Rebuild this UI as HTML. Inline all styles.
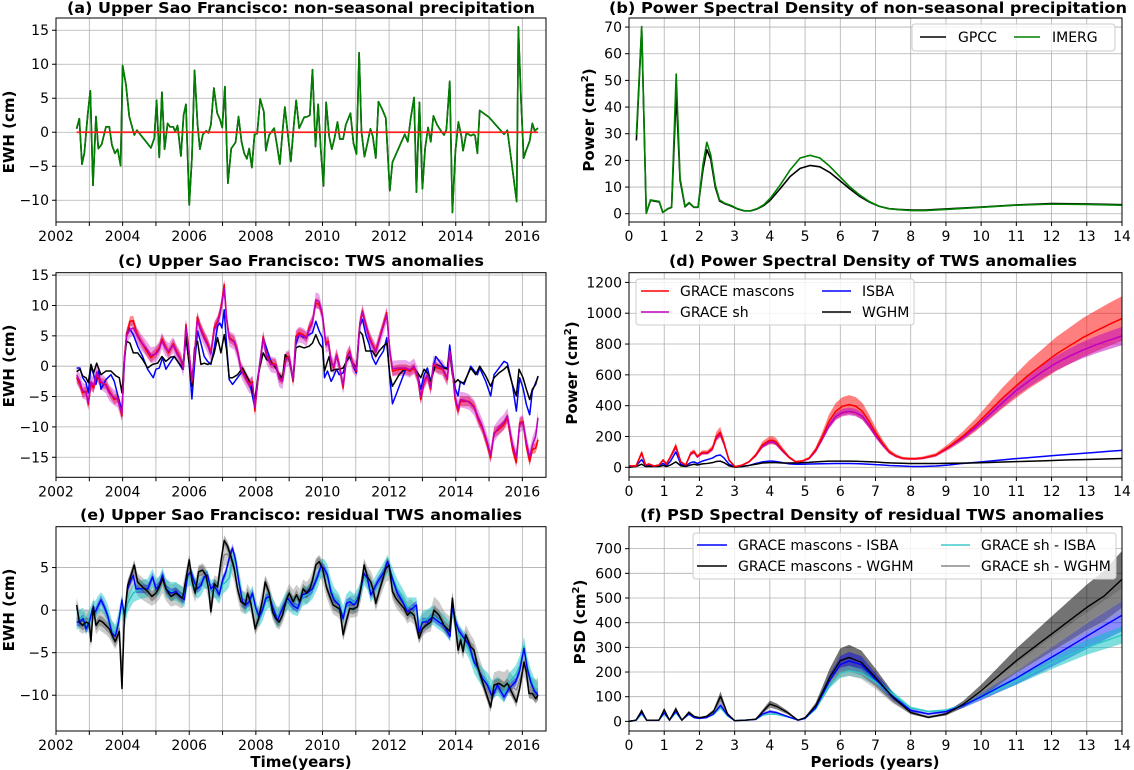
<!DOCTYPE html>
<html><head><meta charset="utf-8"><style>
html,body{margin:0;padding:0;background:#fff;}
svg{display:block;font-family:"DejaVu Sans","Liberation Sans",sans-serif;}
.tt{font-weight:bold;font-size:15px;}
.ax{font-weight:bold;font-size:15px;}
.tk{font-size:14px;}
.lg{font-size:14px;}
</style></head><body>
<svg id="chart" width="1134" height="770" viewBox="0 0 1134 770" xmlns="http://www.w3.org/2000/svg">
<rect x="0" y="0" width="1134" height="770" fill="#fff"/>
<g id="layer"></g>
<text class="tt" x="301" y="13" text-anchor="middle" textLength="468" lengthAdjust="spacingAndGlyphs">(a) Upper Sao Francisco: non-seasonal precipitation</text>
<text class="tt" x="868" y="13" text-anchor="middle" textLength="518" lengthAdjust="spacingAndGlyphs">(b) Power Spectral Density of non-seasonal precipitation</text>
<text class="tt" x="301" y="266" text-anchor="middle" textLength="366" lengthAdjust="spacingAndGlyphs">(c) Upper Sao Francisco: TWS anomalies</text>
<text class="tt" x="873" y="266" text-anchor="middle" textLength="408" lengthAdjust="spacingAndGlyphs">(d) Power Spectral Density of TWS anomalies</text>
<text class="tt" x="301" y="520" text-anchor="middle" textLength="442" lengthAdjust="spacingAndGlyphs">(e) Upper Sao Francisco: residual TWS anomalies</text>
<text class="tt" x="872" y="520" text-anchor="middle" textLength="464" lengthAdjust="spacingAndGlyphs">(f) PSD Spectral Density of residual TWS anomalies</text>
<text class="ax" transform="translate(14,132) rotate(-90)" text-anchor="middle">EWH (cm)</text>
<text class="ax" transform="translate(14,366) rotate(-90)" text-anchor="middle">EWH (cm)</text>
<text class="ax" transform="translate(14,610) rotate(-90)" text-anchor="middle">EWH (cm)</text>
<text class="ax" transform="translate(594,120) rotate(-90)" text-anchor="middle">Power (cm<tspan dy="-6" font-size="10">2</tspan><tspan dy="6">)</tspan></text>
<text class="ax" transform="translate(577,373) rotate(-90)" text-anchor="middle">Power (cm<tspan dy="-6" font-size="10">2</tspan><tspan dy="6">)</tspan></text>
<text class="ax" transform="translate(585,622) rotate(-90)" text-anchor="middle">PSD (cm<tspan dy="-6" font-size="10">2</tspan><tspan dy="6">)</tspan></text>
<text class="ax" x="301" y="767" text-anchor="middle">Time(years)</text>
<text class="ax" x="875" y="767" text-anchor="middle">Periods (years)</text>

<g>
<rect x="912" y="24" width="203" height="27" rx="3" fill="#fff" fill-opacity="0.8" stroke="#ccc"/>
<line x1="920" y1="37" x2="946" y2="37" stroke="#000" stroke-width="1.5"/>
<text class="lg" x="958" y="42">GPCC</text>
<line x1="1014" y1="37" x2="1040" y2="37" stroke="#008000" stroke-width="1.5"/>
<text class="lg" x="1052" y="42">IMERG</text>
</g>
<g>
<rect x="636" y="279" width="278" height="46" rx="3" fill="#fff" fill-opacity="0.8" stroke="#ccc"/>
<line x1="641" y1="291" x2="669" y2="291" stroke="#ff0000" stroke-width="1.5"/>
<text class="lg" x="680" y="296">GRACE mascons</text>
<line x1="641" y1="312" x2="669" y2="312" stroke="#bf00bf" stroke-width="1.5"/>
<text class="lg" x="680" y="317">GRACE sh</text>
<line x1="822" y1="291" x2="851" y2="291" stroke="#0000ff" stroke-width="1.5"/>
<text class="lg" x="862" y="296">ISBA</text>
<line x1="822" y1="312" x2="851" y2="312" stroke="#000" stroke-width="1.5"/>
<text class="lg" x="862" y="317">WGHM</text>
</g>
<g>
<rect x="693" y="533" width="423" height="46" rx="3" fill="#fff" fill-opacity="0.8" stroke="#ccc"/>
<line x1="697" y1="545" x2="727" y2="545" stroke="#0000ff" stroke-width="1.5"/>
<text class="lg" x="738" y="550">GRACE mascons - ISBA</text>
<line x1="697" y1="566" x2="727" y2="566" stroke="#000" stroke-width="1.5"/>
<text class="lg" x="738" y="571">GRACE mascons - WGHM</text>
<line x1="941" y1="545" x2="970" y2="545" stroke="#40c8c8" stroke-width="1.5"/>
<text class="lg" x="981" y="550">GRACE sh - ISBA</text>
<line x1="941" y1="566" x2="970" y2="566" stroke="#888" stroke-width="1.5"/>
<text class="lg" x="981" y="571">GRACE sh - WGHM</text>
</g>
</svg>
<script>
// ---------- Panel (a) data ----------
const precipT=[2002.62,2002.70,2002.78,2002.85,2002.95,2003.03,2003.11,2003.20,2003.27,2003.37,2003.50,2003.60,2003.68,2003.77,2003.85,2003.94,2004.00,2004.10,2004.20,2004.35,2004.43,2004.85,2004.95,2005.02,2005.10,2005.18,2005.26,2005.35,2005.42,2005.52,2005.58,2005.65,2005.75,2005.83,2005.90,2006.00,2006.08,2006.16,2006.25,2006.32,2006.41,2006.51,2006.58,2006.65,2006.74,2006.84,2006.92,2006.99,2007.07,2007.16,2007.26,2007.39,2007.48,2007.57,2007.65,2007.73,2007.80,2007.88,2007.96,2008.04,2008.13,2008.24,2008.30,2008.40,2008.55,2008.64,2008.72,2008.80,2008.87,2008.96,2009.05,2009.14,2009.21,2009.30,2009.45,2009.55,2009.62,2009.70,2009.79,2009.87,2009.95,2010.03,2010.11,2010.20,2010.28,2010.36,2010.45,2010.52,2010.62,2010.70,2010.84,2010.93,2011.02,2011.10,2011.17,2011.26,2011.35,2011.44,2011.51,2011.60,2011.68,2011.80,2011.90,2012.02,2012.10,2012.47,2012.56,2012.65,2012.75,2012.82,2012.91,2013.00,2013.08,2013.17,2013.25,2013.33,2013.44,2013.57,2013.65,2013.72,2013.82,2013.90,2013.99,2014.08,2014.17,2014.22,2014.32,2014.45,2014.54,2014.58,2014.65,2014.72,2015.00,2015.45,2015.55,2015.83,2015.88,2015.96,2016.04,2016.12,2016.22,2016.30,2016.37,2016.47];
const gpccV=[0.5,2.0,-4.7,-3.1,2.5,6.1,-7.8,2.3,-2.4,-1.8,0.8,0.8,-1.9,-3.1,-2.5,-4.9,9.8,7.0,2.3,-0.4,0.3,-2.3,-0.9,4.7,-3.7,5.9,-2.5,1.3,0.8,0.8,0.1,1.0,-3.5,2.5,4.1,-10.7,-3.8,9.1,1.1,-2.5,-0.3,0.2,-0.1,1.1,6.5,2.8,1.9,0.7,6.7,-7.5,-2.4,-1.5,2.3,-1.4,-3.1,-3.9,-2.4,-5.2,-0.3,-0.2,4.9,3.0,-2.7,-0.4,0.6,-2.1,-4.7,0.1,3.7,-0.3,-4.3,1.1,4.7,0.6,2.2,2.3,2.5,9.2,-2.1,4.1,-2.6,-7.9,4.4,-0.6,-2.5,-0.9,1.5,-1.0,-1.0,1.1,2.8,-1.6,-3.2,11.7,0.1,-3.6,-1.6,0.5,-0.6,-3.8,4.5,3.3,2.1,-8.6,-4.4,-0.3,-1.4,2.1,5.1,-8.8,4.4,-8.3,-2.4,0.7,-1.4,2.4,1.1,0.1,-0.4,0.4,7.5,-11.8,-2.8,1.5,-0.6,-2.7,-0.1,-0.5,-0.3,-0.5,-3.1,3.2,2.2,-0.3,0.3,-10.2,15.5,4.8,-3.8,-2.6,-1.3,1.3,0.2,0.6];
const imergV=[0.5,2.0,-4.7,-3.1,2.5,6.1,-7.8,2.3,-2.4,-1.8,0.8,0.8,-1.9,-3.1,-2.5,-4.9,9.8,7.0,2.3,-0.4,0.3,-2.3,-0.9,4.7,-3.7,5.9,-2.5,1.3,0.8,0.8,0.1,1.0,-3.5,2.5,4.1,-10.7,-3.8,9.1,1.1,-2.5,-0.3,0.2,-0.1,1.1,6.5,2.8,1.9,0.7,6.7,-7.5,-2.4,-1.5,2.3,-1.4,-3.1,-3.9,-2.4,-5.2,-0.3,-0.2,4.9,3.0,-2.7,-0.4,0.6,-2.1,-4.7,0.1,3.7,-0.3,-4.3,1.1,4.7,0.6,2.2,2.3,2.5,9.2,-2.1,4.1,-2.6,-7.9,4.4,-0.6,-2.5,-0.9,1.5,-1.0,-1.0,1.1,2.8,-1.6,-3.2,11.7,0.1,-3.6,-1.6,0.5,-0.6,-3.8,4.5,3.3,2.1,-8.6,-4.4,-0.3,-1.4,2.1,5.1,-8.8,4.4,-8.3,-2.4,0.7,-1.4,2.4,1.1,0.1,-0.4,0.4,7.5,-11.8,-2.8,1.5,-0.6,-2.7,-0.1,-0.5,-0.3,-0.5,-3.1,3.2,2.2,-0.3,0.3,-10.2,15.5,4.8,-3.8,-2.6,-1.3,1.3,0.2,0.6];
const seasonalZero=[0,0];
const seasonalT=[2002.62,2016.47];

// ---------- Panel (b) data ----------
const psdPrecipP=[0.21,0.36,0.49,0.61,0.73,0.86,0.96,1.10,1.21,1.34,1.45,1.59,1.71,1.84,1.96,2.10,2.21,2.32,2.45,2.57,2.71,2.90,3.08,3.27,3.46,3.64,3.83,4.02,4.30,4.58,4.86,5.14,5.42,5.70,5.98,6.26,6.54,6.82,7.10,7.38,7.66,8.04,8.41,9,10,11,12,13,14];
const imergPsd=[29.6,70.2,0.2,5.2,4.9,4.6,0.5,1.9,2.5,52.4,13.4,2.8,4.2,2.5,2.5,18.4,26.8,22.1,10.9,5.2,4.0,3.1,1.9,1.1,1.1,1.9,3.4,5.9,10.9,16.5,20.9,21.9,20.9,17.8,14.0,10.2,7.1,4.6,2.8,1.9,1.5,1.2,1.2,1.6,2.4,3.2,3.6,3.5,3.2];
const gpccPsd=[27.5,69.5,0.2,5.0,4.7,4.4,0.5,1.8,2.4,45.0,12.5,2.6,4.0,2.4,2.4,16.5,24.0,20.5,10.0,4.8,3.8,2.9,1.8,1.1,1.1,1.8,3.1,5.2,9.5,14.0,17.0,18.1,17.6,15.5,12.5,9.4,6.6,4.4,2.8,1.9,1.6,1.4,1.4,1.8,2.5,3.3,3.8,3.7,3.4];

// ---------- Panel (c) data ----------
const masconT=[2002.62,2002.72,2002.80,2002.90,2002.97,2003.05,2003.13,2003.22,2003.35,2003.50,2003.60,2003.75,2003.85,2003.98,2004.05,2004.12,2004.22,2004.32,2004.42,2004.55,2004.70,2004.85,2005.00,2005.10,2005.18,2005.28,2005.38,2005.52,2005.62,2005.75,2005.82,2005.90,2005.98,2006.08,2006.16,2006.24,2006.34,2006.45,2006.55,2006.65,2006.75,2006.85,2006.92,2006.98,2007.05,2007.12,2007.20,2007.35,2007.45,2007.55,2007.70,2007.82,2007.90,2007.97,2008.07,2008.22,2008.32,2008.45,2008.60,2008.70,2008.80,2008.90,2009.00,2009.12,2009.20,2009.30,2009.42,2009.52,2009.60,2009.70,2009.80,2009.90,2010.00,2010.10,2010.18,2010.26,2010.34,2010.42,2010.50,2010.62,2010.72,2010.82,2010.90,2011.02,2011.12,2011.20,2011.30,2011.40,2011.50,2011.60,2011.70,2011.83,2011.93,2012.02,2012.10,2012.30,2012.50,2012.62,2012.75,2012.86,2012.95,2013.05,2013.15,2013.25,2013.33,2013.45,2013.60,2013.75,2013.82,2013.90,2013.98,2014.07,2014.14,2014.25,2014.40,2014.55,2014.68,2014.80,2014.92,2015.05,2015.15,2015.30,2015.45,2015.55,2015.70,2015.82,2015.92,2016.02,2016.12,2016.22,2016.30,2016.40,2016.47];
const masconV=[-1.9,-3.0,-4.4,-4.1,-6.3,-3.0,-3.6,-1.4,-2.7,-3.0,-4.1,-5.5,-5.2,-8.2,1.4,5.2,7.4,7.5,5.5,4.1,2.7,1.4,2.2,3.0,4.5,3.3,2.2,3.7,2.5,1.1,-0.3,6.9,3.3,-2.7,1.9,8.1,6.3,4.9,3.8,2.2,6.4,7.4,8.8,10.7,13.5,8.0,4.7,4.1,2.5,-0.3,-1.9,-3.0,-2.5,-7.4,-1.9,4.9,1.9,0.5,0.3,-1.9,-2.2,1.4,1.6,-2.5,4.9,5.5,5.2,4.7,6.3,7.4,10.4,10.2,8.5,3.8,4.1,0.8,-0.3,1.9,0.3,-3.6,1.4,2.5,0.5,-0.8,7.1,9.1,6.9,4.9,3.6,2.5,4.4,6.9,8.8,2.5,-0.8,-0.5,-0.5,-0.8,-0.3,-1.9,-5.5,-2.7,-1.6,-3.8,0.3,-0.3,-0.5,-2.2,2.5,-0.8,-5.5,-7.4,-5.8,-5.8,-5.8,-6.6,-8.8,-10.2,-12.4,-15.1,-11.0,-10.4,-9.6,-8.5,-13.5,-15.9,-9.3,-9.1,-13.2,-15.7,-13.7,-13.5,-12.1];
const shV=[-1.5,-2.6,-4.0,-4.3,-6.0,-2.6,-3.2,-1.0,-2.5,-3.2,-4.4,-5.2,-5.5,-7.8,1.0,5.0,6.0,6.3,5.2,4.0,3.0,1.8,2.0,2.8,4.2,3.0,2.5,3.5,2.2,1.0,-0.5,6.5,3.0,-2.3,1.6,7.6,6.0,4.6,3.5,2.0,6.0,7.0,8.5,10.3,12.8,7.8,4.5,4.0,2.3,-0.5,-2.1,-3.3,-2.8,-6.8,-1.6,4.6,1.6,0.3,0.1,-2.1,-2.5,1.1,1.4,-2.2,4.6,5.2,5.0,4.5,6.0,7.2,10.9,10.6,8.3,3.5,3.8,0.6,-0.1,1.7,0.1,-3.2,1.2,2.3,0.3,-0.6,6.8,8.9,6.6,4.6,3.4,2.3,4.2,6.6,8.4,2.7,-0.4,-0.3,-0.3,-0.6,0.0,-1.6,-5.0,-2.5,-1.4,-3.5,0.5,0.0,-0.3,-2.0,2.3,-0.6,-5.0,-7.0,-5.5,-5.6,-5.9,-6.8,-8.5,-10.0,-12.0,-14.6,-11.2,-10.0,-9.2,-8.2,-12.8,-15.0,-9.6,-9.3,-12.5,-15.0,-13.0,-11.5,-8.5];
const isbaT=[2002.62,2002.72,2002.80,2002.90,2002.97,2003.05,2003.13,2003.20,2003.28,2003.35,2003.50,2003.65,2003.75,2003.85,2003.98,2004.05,2004.12,2004.20,2004.32,2004.45,2004.60,2004.75,2004.92,2005.00,2005.10,2005.20,2005.30,2005.45,2005.55,2005.65,2005.80,2005.90,2006.00,2006.08,2006.16,2006.25,2006.35,2006.45,2006.55,2006.65,2006.75,2006.85,2006.92,2006.98,2007.05,2007.12,2007.20,2007.30,2007.45,2007.60,2007.75,2007.85,2007.97,2008.07,2008.22,2008.32,2008.45,2008.60,2008.70,2008.80,2008.88,2009.00,2009.12,2009.20,2009.30,2009.45,2009.60,2009.70,2009.80,2009.90,2010.00,2010.06,2010.15,2010.26,2010.34,2010.42,2010.50,2010.62,2010.72,2010.82,2010.90,2011.02,2011.12,2011.20,2011.30,2011.40,2011.50,2011.60,2011.70,2011.83,2011.93,2012.02,2012.10,2012.25,2012.40,2012.50,2012.62,2012.75,2012.86,2012.95,2013.05,2013.15,2013.25,2013.40,2013.65,2013.75,2013.82,2013.90,2013.98,2014.07,2014.14,2014.25,2014.45,2014.65,2014.72,2014.90,2015.05,2015.15,2015.30,2015.45,2015.55,2015.70,2015.82,2015.92,2016.02,2016.12,2016.22,2016.30,2016.40,2016.47];
const isbaV=[-0.3,-0.3,-1.9,-2.7,-4.4,0.0,-1.4,-3.0,-0.8,-3.8,-2.2,-1.4,-2.5,-4.7,-7.4,0.3,5.5,6.3,5.2,3.3,1.6,-0.5,-1.9,-0.5,-0.3,1.4,-0.5,0.8,1.6,0.8,-0.5,4.9,0.3,-5.4,0.3,5.8,3.8,1.6,0.8,0.3,3.0,6.6,7.1,6.3,9.3,3.6,-2.2,-3.0,-1.9,-0.8,-2.5,-3.6,-6.9,-1.9,4.7,3.0,0.8,-0.3,-1.4,-2.2,1.6,1.4,-2.2,3.6,5.2,4.7,5.2,5.5,7.4,5.8,4.7,-1.9,-0.8,-2.5,-1.6,-0.5,-1.4,-1.1,0.8,1.6,0.3,-1.1,6.6,7.7,5.2,3.6,1.4,0.3,1.4,2.5,4.7,-1.9,-6.2,-4.1,-1.9,-0.5,-0.8,-0.3,-1.4,-3.8,-1.4,-0.3,-2.5,1.6,-0.2,-0.3,3.5,-0.3,-3.6,-4.9,-2.5,-3.0,0.0,-1.4,-0.3,-2.5,-4.9,-1.4,-0.3,0.8,0.5,-3.0,-7.4,-1.9,-3.6,-6.3,-8.0,-4.1,-2.7,-1.8];
const wghmT=[2002.62,2002.72,2002.80,2002.90,2002.97,2003.05,2003.13,2003.22,2003.35,2003.50,2003.65,2003.80,2003.90,2003.98,2004.05,2004.12,2004.22,2004.32,2004.45,2004.60,2004.75,2004.90,2005.05,2005.18,2005.30,2005.45,2005.55,2005.72,2005.82,2005.90,2006.00,2006.08,2006.16,2006.25,2006.35,2006.45,2006.55,2006.65,2006.75,2006.85,2006.95,2007.05,2007.12,2007.20,2007.30,2007.45,2007.60,2007.75,2007.85,2007.97,2008.07,2008.22,2008.32,2008.45,2008.60,2008.70,2008.80,2008.88,2009.00,2009.12,2009.20,2009.30,2009.45,2009.60,2009.70,2009.80,2009.90,2010.00,2010.06,2010.15,2010.20,2010.26,2010.40,2010.50,2010.62,2010.72,2010.82,2010.90,2011.02,2011.10,2011.20,2011.30,2011.50,2011.60,2011.70,2011.83,2011.93,2012.02,2012.10,2012.30,2012.50,2012.62,2012.75,2012.86,2012.95,2013.05,2013.15,2013.25,2013.40,2013.65,2013.75,2013.82,2013.90,2013.98,2014.07,2014.14,2014.25,2014.45,2014.60,2014.72,2014.90,2015.05,2015.15,2015.30,2015.45,2015.55,2015.70,2015.82,2015.90,2016.02,2016.12,2016.22,2016.30,2016.40,2016.47];
const wghmV=[-0.9,-0.5,-1.6,-1.9,-2.7,0.3,-1.1,0.5,-1.4,-0.8,-0.8,-1.6,-1.9,-4.4,1.1,4.1,3.8,2.2,2.2,1.1,-0.3,0.3,0.5,1.6,0.8,1.5,1.6,0.3,-0.5,4.9,0.3,-3.3,3.0,4.1,0.3,0.5,0.3,0.5,2.2,4.7,2.2,5.2,2.7,-1.9,-1.9,-1.4,-0.3,-1.9,-3.0,-5.5,-1.4,2.2,1.1,0.8,-0.3,-1.4,-1.9,1.9,1.1,-2.5,3.0,3.3,3.0,3.3,3.8,5.2,3.8,3.0,-0.8,0.8,1.6,-0.8,-0.5,-0.5,-0.3,0.8,1.6,0.5,-0.3,5.8,5.2,2.5,2.5,1.6,2.5,3.3,3.8,-1.4,-3.3,-1.4,-0.3,-0.8,-0.3,-1.1,-1.9,-0.5,-1.1,-2.5,0.3,-0.3,-0.5,2.2,-1.4,-2.7,-2.2,-2.7,-2.7,-0.3,-1.4,0.0,-1.6,-3.3,-1.9,-1.1,-0.5,0.0,-3.0,-4.9,-0.5,-1.9,-3.8,-5.5,-3.8,-3.0,-1.6];
const masconSigma=0.8, shSigma=1.3;

// ---------- Panel (d) data ----------
const psdTwsP=[0.00,0.20,0.36,0.47,0.57,0.71,0.85,0.97,1.06,1.18,1.33,1.47,1.61,1.75,1.85,1.94,2.08,2.23,2.37,2.48,2.59,2.70,2.84,3.01,3.22,3.41,3.60,3.79,3.98,4.07,4.17,4.36,4.55,4.73,4.92,5.11,5.30,5.49,5.68,5.87,6.06,6.25,6.44,6.63,6.82,7.01,7.20,7.39,7.58,7.77,7.95,8.14,8.33,8.71,9.09,9.47,9.85,10.23,10.61,10.98,11.36,11.74,12.12,12.50,12.88,13.26,13.64,14.00];
const masconPsd=[9,9,96,15,22,9,15,48,22,70,139,37,15,91,102,70,96,96,124,200,228,157,48,4,15,37,80,146,174,176,167,113,65,37,41,59,113,200,298,363,396,407,396,363,298,222,157,102,74,59,56,56,60,80,135,200,276,363,450,526,602,667,733,787,841,885,928,965];
const shPsd=[8,8,90,14,20,8,14,44,20,65,130,34,14,85,98,66,92,92,118,190,215,150,45,4,14,35,75,136,162,165,156,106,62,36,40,55,104,185,270,330,355,363,355,330,272,205,147,98,72,58,55,55,58,78,130,190,260,340,420,495,560,620,675,720,760,795,825,852];
const isbaPsd=[0,10,50,10,10,8,10,25,10,40,100,20,10,30,35,25,40,50,60,75,80,60,20,2,5,12,25,35,40,40,38,30,22,20,20,21,22,23,24,25,25,25,24,22,20,17,15,12,10,8,6,5,5,8,15,25,32,40,48,56,63,70,77,84,90,97,104,110];
const wghmPsd=[0,5,20,5,5,5,5,12,5,15,35,10,5,15,20,15,22,25,30,38,40,30,10,1,5,12,20,28,30,30,30,28,28,29,30,32,35,38,40,40,40,40,39,38,36,34,31,29,27,26,25,25,25,25,26,27,29,31,34,37,39,42,45,48,50,52,55,57];
const masconPsdRel=0.15, shPsdRel=0.07;

// ---------- Panel (e) data ----------
const resMwT=[2002.62,2002.70,2002.80,2002.90,2003.00,2003.05,2003.12,2003.20,2003.30,2003.40,2003.50,2003.60,2003.68,2003.78,2003.90,2003.98,2004.05,2004.15,2004.22,2004.35,2004.45,2004.60,2004.75,2004.88,2005.00,2005.10,2005.20,2005.30,2005.45,2005.60,2005.72,2005.80,2005.92,2006.00,2006.08,2006.18,2006.28,2006.40,2006.50,2006.58,2006.65,2006.75,2006.85,2006.95,2007.05,2007.15,2007.25,2007.35,2007.45,2007.55,2007.68,2007.75,2007.85,2007.98,2008.08,2008.20,2008.28,2008.40,2008.50,2008.60,2008.70,2008.80,2008.90,2009.00,2009.12,2009.22,2009.32,2009.42,2009.52,2009.62,2009.70,2009.80,2009.90,2010.00,2010.12,2010.22,2010.32,2010.45,2010.52,2010.62,2010.72,2010.82,2010.92,2011.05,2011.15,2011.25,2011.35,2011.45,2011.52,2011.60,2011.70,2011.80,2011.90,2012.00,2012.10,2012.20,2012.32,2012.45,2012.55,2012.63,2012.75,2012.90,2013.00,2013.10,2013.25,2013.35,2013.50,2013.65,2013.75,2013.82,2013.90,2013.98,2014.07,2014.15,2014.22,2014.30,2014.45,2014.55,2014.65,2014.75,2014.90,2015.05,2015.15,2015.30,2015.45,2015.55,2015.70,2015.82,2015.92,2016.05,2016.12,2016.20,2016.30,2016.40,2016.47];
const resMwV=[0.6,-1.4,-1.8,-1.4,-1.6,-3.7,0.4,-1.8,-1.2,-1.4,-1.8,-2.2,-2.9,-3.7,-2.5,-9.2,-1.0,2.9,3.7,5.3,3.3,2.7,2.2,1.6,2.0,2.7,3.7,2.5,1.6,2.0,1.6,1.4,4.1,5.9,3.5,2.0,4.5,4.7,4.1,2.5,-0.2,3.1,2.7,5.7,8.2,7.5,6.3,4.9,2.5,1.0,0.6,2.0,0.8,-2.2,-1.0,1.2,3.3,2.0,-0.2,-1.0,-1.4,-0.6,1.0,2.0,1.0,1.8,1.0,2.5,2.0,2.5,3.5,5.3,5.7,4.9,2.7,1.6,0.6,0.3,0.1,-2.9,-1.2,0.2,0.1,0.4,2.5,5.3,3.9,3.3,2.4,0.8,2.2,3.5,4.9,5.3,2.2,1.4,0.8,0.2,-0.6,-0.2,-0.6,-3.3,-2.2,-1.8,-1.4,0.0,-0.6,-1.8,-2.2,-2.5,1.4,-1.4,-4.7,-3.5,-4.9,-2.9,-4.3,-4.7,-6.5,-7.8,-9.6,-11.4,-8.8,-8.6,-9.0,-8.6,-9.8,-10.8,-9.2,-6.1,-7.3,-9.8,-9.8,-10.4,-10.0];
const resShwV=[0.2,-1.2,-1.5,-1.2,-1.4,-3.2,0.2,-1.6,-1.0,-1.3,-1.6,-2.0,-2.6,-3.3,-2.2,-7.5,-1.2,2.2,3.0,4.5,3.0,2.5,2.1,1.8,2.1,2.6,3.3,2.4,1.7,1.9,1.6,1.5,3.8,5.2,3.4,2.2,4.0,4.2,3.8,2.5,0.5,2.8,2.6,4.8,6.5,6.6,5.8,4.6,2.6,1.1,0.8,1.8,0.9,-1.6,-0.8,1.2,2.8,1.8,0.2,-0.7,-1.0,-0.3,0.9,1.8,1.1,1.7,1.2,2.3,2.0,2.5,3.3,4.8,5.2,4.6,2.8,1.7,0.8,0.5,0.2,-2.3,-1.0,0.4,0.4,0.6,2.3,4.8,3.8,3.3,2.6,1.2,2.4,3.5,4.6,4.8,2.5,1.6,1.0,0.4,-0.3,0.0,-0.4,-2.6,-1.8,-1.4,-1.2,0.3,-0.3,-1.4,-1.8,-2.0,1.0,-1.4,-4.0,-3.4,-4.5,-3.0,-4.2,-4.8,-6.0,-7.4,-8.9,-10.4,-8.6,-8.4,-8.6,-8.2,-9.0,-9.4,-8.2,-6.5,-7.2,-9.0,-9.2,-9.5,-9.2];
const resMiT=[2002.62,2002.72,2002.82,2002.90,2003.00,2003.10,2003.18,2003.25,2003.35,2003.45,2003.55,2003.68,2003.78,2003.88,2003.98,2004.05,2004.15,2004.25,2004.32,2004.40,2004.55,2004.75,2004.90,2005.00,2005.10,2005.20,2005.30,2005.45,2005.60,2005.75,2005.85,2005.95,2006.05,2006.15,2006.25,2006.35,2006.45,2006.55,2006.65,2006.75,2006.90,2007.00,2007.10,2007.20,2007.30,2007.40,2007.50,2007.60,2007.70,2007.80,2007.90,2008.00,2008.10,2008.20,2008.30,2008.40,2008.50,2008.65,2008.80,2008.95,2009.10,2009.25,2009.40,2009.55,2009.70,2009.85,2009.95,2010.05,2010.15,2010.25,2010.35,2010.50,2010.62,2010.72,2010.82,2010.95,2011.05,2011.15,2011.25,2011.35,2011.45,2011.55,2011.65,2011.85,2011.95,2012.10,2012.25,2012.40,2012.55,2012.70,2012.82,2012.90,2013.00,2013.15,2013.30,2013.50,2013.65,2013.83,2013.90,2014.00,2014.10,2014.25,2014.40,2014.55,2014.65,2014.80,2014.95,2015.10,2015.25,2015.45,2015.60,2015.80,2015.92,2016.05,2016.15,2016.25,2016.35,2016.47];
const resMiV=[-1.4,-1.4,-1.0,-2.2,-1.4,0.2,-0.2,0.4,1.2,0.4,-0.6,-2.7,-3.1,-1.4,1.2,-0.6,2.5,3.5,4.1,2.5,2.5,2.5,3.9,2.5,2.9,4.1,2.5,2.0,2.2,1.6,1.2,4.1,4.5,3.3,2.5,2.9,3.9,4.1,2.5,2.9,1.8,3.5,4.5,6.1,7.3,5.7,3.1,1.0,0.6,1.0,2.0,0.2,-0.8,0.0,1.4,1.6,0.4,-1.2,0.2,1.4,0.6,0.2,1.8,2.0,2.5,3.9,5.1,4.9,4.1,2.2,1.2,0.6,-1.0,0.8,1.0,0.6,1.2,2.5,4.3,3.7,1.8,2.5,3.3,4.5,5.7,3.7,2.0,1.0,-0.2,0.2,0.6,-2.7,-1.4,-1.4,-0.8,-1.4,-1.8,-3.1,0.4,-1.4,-2.5,-3.3,-4.1,-6.1,-6.7,-8.0,-8.8,-10.2,-8.8,-10.2,-9.2,-8.4,-7.1,-4.5,-6.9,-8.4,-9.4,-10.0];
const resSiV=[-1.2,-1.0,-0.8,-1.8,-1.0,0.0,0.0,0.5,1.0,0.5,-0.4,-2.3,-2.8,-1.2,0.8,-1.2,0.8,1.5,2.0,2.2,2.4,2.6,3.8,2.6,2.9,3.9,2.6,2.2,2.2,1.8,1.4,3.8,4.0,3.0,2.4,2.8,3.6,3.6,2.4,2.6,1.8,3.0,3.3,3.8,6.0,5.5,3.4,1.2,0.6,1.0,1.8,0.0,-0.9,-0.2,1.0,1.4,0.4,-1.0,0.2,1.2,0.6,0.4,1.6,1.8,2.4,3.6,4.9,4.9,4.3,2.6,1.6,0.8,-0.6,0.8,1.2,0.8,1.4,2.3,4.0,3.5,2.0,2.6,3.3,4.6,5.4,3.9,2.5,1.5,0.4,0.4,0.4,-2.2,-1.2,-1.0,-0.6,-1.2,-1.6,-2.6,0.2,-1.6,-2.8,-3.6,-4.6,-6.3,-7.0,-7.9,-8.4,-9.4,-8.9,-9.8,-8.5,-7.6,-6.5,-4.2,-6.6,-8.0,-9.0,-9.6];
const resMwSigma=0.6, resShwSigma=1.3, resMiSigma=0.5, resSiSigma=1.1;

// ---------- Panel (f) data ----------
const psdResP=[0.00,0.20,0.36,0.50,0.70,0.85,1.00,1.15,1.33,1.50,1.70,1.85,2.00,2.20,2.40,2.60,2.80,3.00,3.30,3.60,3.80,4.00,4.20,4.50,4.80,5.00,5.30,5.50,5.70,6.00,6.25,6.60,7.00,7.50,8.00,8.50,9.00,9.50,10.00,10.50,11.00,11.50,12.00,12.50,13.00,13.50,14.00];
const resMwPsd=[0,5,43,5,5,5,47,5,50,5,36,20,15,20,40,101,30,3,5,9,40,70,60,36,5,15,63,120,178,246,259,239,178,97,36,16,30,70,124,185,246,300,354,408,462,509,576];
const resMiPsd=[0,5,35,5,5,5,35,5,40,5,30,15,12,15,30,65,25,3,5,8,30,40,35,20,5,12,55,110,165,230,245,230,170,100,45,30,40,65,100,138,175,218,260,302,345,388,430];
const resSiPsd=[0,4,30,5,5,5,30,5,35,5,28,15,12,15,28,55,22,3,5,8,25,30,28,18,5,12,50,100,150,195,205,195,160,110,55,40,45,65,100,132,165,200,235,268,300,325,350];
const resSwPsd=[0,4,38,5,5,5,40,5,44,5,32,18,14,18,35,85,28,3,5,9,35,62,55,33,5,14,58,110,160,200,205,190,145,80,35,20,30,70,120,165,215,262,310,355,400,445,490];
const resMwRel=0.2, resMiRel=0.15, resSiRel=0.1, resSwRel=0.1;

// ---------- axis machinery ----------
const NS='http://www.w3.org/2000/svg';
const layer=document.getElementById('layer');
function mk(tag,parent){const e=document.createElementNS(NS,tag);parent.appendChild(e);return e;}
function panel(l,t,r,b,x0,x1,y0,y1){return {l:l,t:t,r:r,b:b,sx:v=>l+(v-x0)/(x1-x0)*(r-l),sy:v=>b-(v-y0)/(y1-y0)*(b-t)};}
const pa=panel(56,18,546,222,2002,2016.71,-13.2,16.8);
const pb=panel(629,18,1122,222,0,14,-3.1,73.4);
const pc=panel(56,272.7,546,477.3,2002,2016.71,-18.3,15.4);
const pd=panel(629,272.7,1122,477,0,14,-63,1263);
const pe=panel(56,526.7,546,731,2002,2016.71,-14.2,9.8);
const pf=panel(629,526.7,1122,731,0,14,-39,789);
const yearTicks=[2002,2003,2004,2005,2006,2007,2008,2009,2010,2011,2012,2013,2014,2015,2016];
const periodTicks=[0,1,2,3,4,5,6,7,8,9,10,11,12,13,14];
const ytA=[-10,-5,0,5,10,15], ytC=[-15,-10,-5,0,5,10,15], ytE=[-10,-5,0,5];
const ytB=[0,10,20,30,40,50,60,70], ytD=[0,200,400,600,800,1000,1200], ytF=[0,100,200,300,400,500,600,700];
function fmt(v){return v<0?'\u2212'+Math.abs(v):String(v);}
let clipN=0;
function axes(p,xt,yt,isYear,name){
  const g=mk('g',layer);
  
  
  xt.forEach(v=>{
    const x=p.sx(v);
    const gl=mk('line',g);gl.setAttribute('x1',x);gl.setAttribute('x2',x);gl.setAttribute('y1',p.t);gl.setAttribute('y2',p.b);gl.setAttribute('stroke','#b0b0b0');gl.setAttribute('stroke-width','0.8');
    
    const tm=mk('line',g);tm.setAttribute('x1',x);tm.setAttribute('x2',x);tm.setAttribute('y1',p.b);tm.setAttribute('y2',p.b+4);tm.setAttribute('stroke','#000');
    
    if(!isYear||v%2===0){
      const tx=mk('text',g);tx.setAttribute('x',x);tx.setAttribute('y',p.b+19);tx.setAttribute('text-anchor','middle');tx.setAttribute('class','tk');tx.textContent=String(v);
      
      
    }
  });
  yt.forEach(v=>{
    const y=p.sy(v);
    const gl=mk('line',g);gl.setAttribute('x1',p.l);gl.setAttribute('x2',p.r);gl.setAttribute('y1',y);gl.setAttribute('y2',y);gl.setAttribute('stroke','#b0b0b0');gl.setAttribute('stroke-width','0.8');
    
    const tm=mk('line',g);tm.setAttribute('x1',p.l-4);tm.setAttribute('x2',p.l);tm.setAttribute('y1',y);tm.setAttribute('y2',y);tm.setAttribute('stroke','#000');
    
    const tx=mk('text',g);tx.setAttribute('x',p.l-7);tx.setAttribute('y',y+5);tx.setAttribute('text-anchor','end');tx.setAttribute('class','tk');tx.textContent=fmt(v);
    
    
  });
  const cp=mk('clipPath',g);cp.setAttribute('id','cp'+(++clipN));
  const cr=mk('rect',cp);cr.setAttribute('x',p.l);cr.setAttribute('y',p.t);cr.setAttribute('width',p.r-p.l);cr.setAttribute('height',p.b-p.t);
  const plot=mk('g',g);plot.setAttribute('clip-path','url(#cp'+clipN+')');
  
  const fr=mk('rect',g);fr.setAttribute('x',p.l);fr.setAttribute('y',p.t);fr.setAttribute('width',p.r-p.l);fr.setAttribute('height',p.b-p.t);fr.setAttribute('fill','none');fr.setAttribute('stroke','#000');fr.setAttribute('stroke-width','1');
  
  return plot;
}
function line(plot,p,xs,ys,color,w,name){
  const n=Math.min(xs.length,ys.length);let d='';
  for(let i=0;i<n;i++)d+=(i?'L':'M')+p.sx(xs[i]).toFixed(2)+','+p.sy(ys[i]).toFixed(2);
  const e=mk('path',plot);e.setAttribute('d',d);e.setAttribute('fill','none');e.setAttribute('stroke',color);e.setAttribute('stroke-width',w);e.setAttribute('stroke-linejoin','round');
  
  
}
function band(plot,p,xs,ys,lo,hi,color,op,name){
  const n=Math.min(xs.length,ys.length);let d='';
  for(let i=0;i<n;i++)d+=(i?'L':'M')+p.sx(xs[i]).toFixed(2)+','+p.sy(hi(ys[i])).toFixed(2);
  for(let i=n-1;i>=0;i--)d+='L'+p.sx(xs[i]).toFixed(2)+','+p.sy(lo(ys[i])).toFixed(2);
  const e=mk('path',plot);e.setAttribute('d',d+'Z');e.setAttribute('fill',color);e.setAttribute('fill-opacity',op);e.setAttribute('stroke','none');
  
  
}
const abs=s=>[v=>v-s,v=>v+s];
const rel=r=>[v=>v*(1-r),v=>v*(1+r)];

// (a)
const ga=axes(pa,yearTicks,ytA,true,'panel-a');
line(ga,pa,precipT,gpccV,'#000',1.6,'gpcc-series');
line(ga,pa,precipT,imergV,'#008000',1.6,'imerg-series');
line(ga,pa,seasonalT,seasonalZero,'#ff2020',1.8,'zero-line');
// (b)
const gb=axes(pb,periodTicks,ytB,false,'panel-b');
line(gb,pb,psdPrecipP,gpccPsd,'#000',1.6,'gpcc-psd');
line(gb,pb,psdPrecipP,imergPsd,'#008000',1.6,'imerg-psd');
// (c)
const gc=axes(pc,yearTicks,ytC,true,'panel-c');
band(gc,pc,masconT,masconV,...abs(masconSigma),'#ff0000',0.45,'mascons-band');
band(gc,pc,masconT,shV,...abs(shSigma),'#bf00bf',0.35,'sh-band');
line(gc,pc,isbaT,isbaV,'#0000ff',1.5,'isba-series');
line(gc,pc,wghmT,wghmV,'#000',1.5,'wghm-series');
line(gc,pc,masconT,masconV,'#ff0000',1.5,'mascons-series');
line(gc,pc,masconT,shV,'#bf00bf',1.5,'sh-series');
// (d)
const gd=axes(pd,periodTicks,ytD,false,'panel-d');
band(gd,pd,psdTwsP,masconPsd,...rel(masconPsdRel),'#ff0000',0.5,'mascons-psd-band');
band(gd,pd,psdTwsP,shPsd,...rel(shPsdRel),'#bf00bf',0.5,'sh-psd-band');
line(gd,pd,psdTwsP,isbaPsd,'#0000ff',1.5,'isba-psd');
line(gd,pd,psdTwsP,wghmPsd,'#000',1.5,'wghm-psd');
line(gd,pd,psdTwsP,shPsd,'#bf00bf',1.5,'sh-psd');
line(gd,pd,psdTwsP,masconPsd,'#ff0000',1.5,'mascons-psd');
// (e)
const ge=axes(pe,yearTicks,ytE,true,'panel-e');
band(ge,pe,resMwT,resShwV,...abs(resShwSigma),'#808080',0.4,'sh-wghm-band');
band(ge,pe,resMiT,resSiV,...abs(resSiSigma),'#00bfbf',0.45,'sh-isba-band');
band(ge,pe,resMiT,resMiV,...abs(resMiSigma),'#0000ff',0.4,'mascons-isba-band');
band(ge,pe,resMwT,resMwV,...abs(resMwSigma),'#404040',0.4,'mascons-wghm-band');
line(ge,pe,resMwT,resShwV,'#888',1.3,'sh-wghm-series');
line(ge,pe,resMiT,resSiV,'#20c0c0',1.3,'sh-isba-series');
line(ge,pe,resMiT,resMiV,'#0000ff',1.4,'mascons-isba-series');
line(ge,pe,resMwT,resMwV,'#000',1.5,'mascons-wghm-series');
// (f)
const gf=axes(pf,periodTicks,ytF,false,'panel-f');
band(gf,pf,psdResP,resMwPsd,...rel(resMwRel),'#000',0.55,'mascons-wghm-psd-band');
band(gf,pf,psdResP,resMiPsd,...rel(resMiRel),'#0000ff',0.45,'mascons-isba-psd-band');
band(gf,pf,psdResP,resSiPsd,...rel(resSiRel),'#00bfbf',0.5,'sh-isba-psd-band');
band(gf,pf,psdResP,resSwPsd,...rel(resSwRel),'#999',0.45,'sh-wghm-psd-band');
line(gf,pf,psdResP,resSwPsd,'#888',1.4,'sh-wghm-psd');
line(gf,pf,psdResP,resSiPsd,'#30c8c8',1.4,'sh-isba-psd');
line(gf,pf,psdResP,resMiPsd,'#0000ff',1.4,'mascons-isba-psd');
line(gf,pf,psdResP,resMwPsd,'#000',1.4,'mascons-wghm-psd');
</script>
</body></html>
